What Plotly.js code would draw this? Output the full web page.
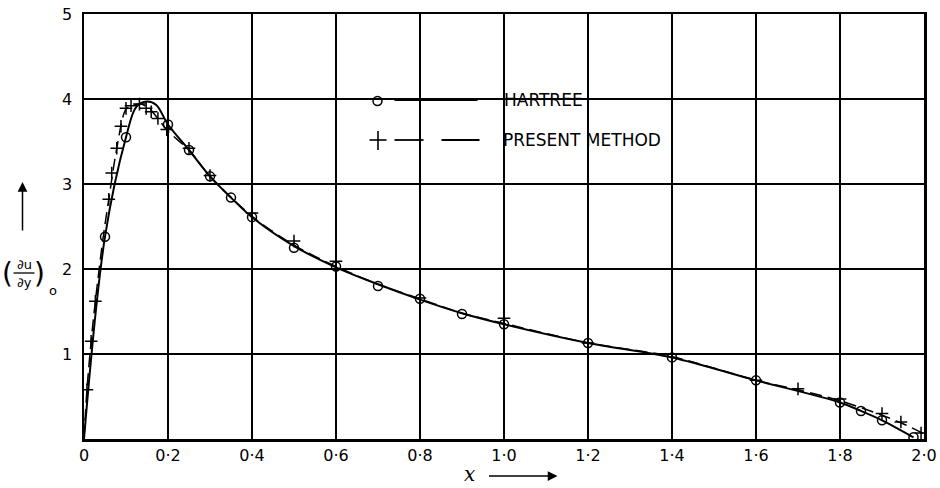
<!DOCTYPE html>
<html>
<head>
<meta charset="utf-8">
<script src="https://cdn.plot.ly/plotly-3.0.1.min.js"></script>
<style>html,body{margin:0;padding:0;background:#fff}#chart{width:940px;height:488px}</style>
</head>
<body>
<div id="chart"></div>
<script>
// Hartree: plotted points (circles)
var hartreeX = [0.05,0.1,0.2,0.25,0.3,0.35,0.4,0.5,0.6,0.7,0.8,0.9,1.0,1.2,1.4,1.6,1.8,1.85,1.9,1.975];
var hartreeY = [2.38,3.55,3.70,3.40,3.09,2.84,2.61,2.25,2.03,1.80,1.65,1.47,1.35,1.13,0.96,0.69,0.43,0.33,0.22,0.02];
// Hartree: faired curve (solid line)
var hartreeCurveX = [0,0.05,0.1,0.125,0.15,0.172,0.2,0.25,0.3,0.35,0.4,0.5,0.6,0.7,0.8,0.9,1.0,1.2,1.4,1.6,1.8,1.85,1.9,1.975];
var hartreeCurveY = [0,2.38,3.55,3.91,3.97,3.93,3.70,3.40,3.09,2.84,2.61,2.27,2.02,1.82,1.64,1.48,1.35,1.13,0.96,0.69,0.43,0.33,0.22,0.02];
// Present method: plotted points (crosses)
var presentX = [0.007,0.017,0.027,0.059,0.066,0.078,0.088,0.1,0.112,0.132,0.148,0.16,0.176,0.197,0.25,0.3,0.4,0.5,0.6,0.8,1.0,1.2,1.4,1.6,1.7,1.8,1.9,1.945,1.993];
var presentY = [0.58,1.15,1.62,2.82,3.13,3.42,3.68,3.89,3.92,3.94,3.89,3.85,3.77,3.64,3.42,3.10,2.66,2.33,2.09,1.66,1.42,1.13,1.00,0.69,0.59,0.47,0.30,0.20,0.07];
// Present method: faired curve (dashed line)
var presentCurveX = [0,0.007,0.017,0.027,0.045,0.059,0.078,0.1,0.12,0.135,0.155,0.176,0.2,0.25,0.3,0.4,0.5,0.6,0.7,0.8,0.9,1.0,1.2,1.4,1.6,1.7,1.8,1.9,1.95,2.0];
var presentCurveY = [0,0.58,1.15,1.62,2.35,2.82,3.42,3.88,3.93,3.94,3.89,3.77,3.62,3.40,3.09,2.62,2.28,2.03,1.82,1.65,1.48,1.36,1.13,0.97,0.69,0.58,0.45,0.28,0.18,0.06];

var xTickVals = [0,0.2,0.4,0.6,0.8,1.0,1.2,1.4,1.6,1.8,2.0];
var xTickText = ['0','0·2','0·4','0·6','0·8','1·0','1·2','1·4','1·6','1·8','2·0'];
var yTickVals = [1,2,3,4,5];
var yTickText = ['1','2','3','4','5'];

var FONT = 'DejaVu Sans, Liberation Sans, sans-serif';

var traces = [
  {x: hartreeCurveX, y: hartreeCurveY, mode: 'lines', line: {color: '#000', width: 2, shape: 'spline', smoothing: 1.0}, showlegend: false, hoverinfo: 'skip'},
  {x: presentCurveX, y: presentCurveY, mode: 'lines', line: {color: '#000', width: 1.5, dash: '12px,6px', shape: 'spline', smoothing: 0.8}, showlegend: false, hoverinfo: 'skip'},
  {x: hartreeX, y: hartreeY, mode: 'markers', marker: {symbol: 'circle-open', size: 9, color: '#000', line: {width: 1.5, color: '#000'}}, showlegend: false},
  {x: presentX, y: presentY, mode: 'markers', marker: {symbol: 'cross-thin-open', size: 9, color: '#000', line: {width: 1.5, color: '#000'}}, showlegend: false}
];

function px2x(p){ return (p - 84.5) / 840; }
function px2y(p){ return (439 - p) / 425; }

var shapes = [
  {type: 'rect', xref: 'paper', yref: 'paper', x0: px2x(360), x1: px2x(608), y0: px2y(152), y1: px2y(86), fillcolor: '#fff', line: {width: 0}, layer: 'between'},
  {type: 'circle', xref: 'paper', yref: 'paper', xsizemode: 'pixel', ysizemode: 'pixel', xanchor: px2x(378), yanchor: px2y(101), x0: -4.5, x1: 4.5, y0: -4.5, y1: 4.5, line: {color: '#000', width: 1.5}},
  {type: 'line', xref: 'paper', yref: 'paper', x0: px2x(395), x1: px2x(478), y0: px2y(100), y1: px2y(100), line: {color: '#000', width: 1.8}},
  {type: 'line', xref: 'paper', yref: 'paper', x0: px2x(370), x1: px2x(387), y0: px2y(140), y1: px2y(140), line: {color: '#000', width: 1.6}},
  {type: 'line', xref: 'paper', yref: 'paper', x0: px2x(378.5), x1: px2x(378.5), y0: px2y(131), y1: px2y(150), line: {color: '#000', width: 1.6}},
  {type: 'line', xref: 'paper', yref: 'paper', x0: px2x(395), x1: px2x(424), y0: px2y(140), y1: px2y(140), line: {color: '#000', width: 1.8}},
  {type: 'line', xref: 'paper', yref: 'paper', x0: px2x(442), x1: px2x(480), y0: px2y(140), y1: px2y(140), line: {color: '#000', width: 1.8}},
  {type: 'line', xref: 'paper', yref: 'paper', x0: px2x(14), x1: px2x(35), y0: px2y(273), y1: px2y(273), line: {color: '#000', width: 1.3}}
];

var annotations = [
  {xref: 'paper', yref: 'paper', x: px2x(502), y: px2y(100), text: 'HARTREE', showarrow: false, xanchor: 'left', yanchor: 'middle', font: {family: FONT, size: 17, color: '#000'}},
  {xref: 'paper', yref: 'paper', x: px2x(501), y: px2y(140), text: 'PRESENT METHOD', showarrow: false, xanchor: 'left', yanchor: 'middle', font: {family: FONT, size: 17, color: '#000'}},
  {xref: 'paper', yref: 'paper', x: px2x(8), y: px2y(273), text: '(', showarrow: false, xanchor: 'center', yanchor: 'middle', font: {family: FONT, size: 28, color: '#000'}},
  {xref: 'paper', yref: 'paper', x: px2x(24.5), y: px2y(264), text: '∂u', showarrow: false, xanchor: 'center', yanchor: 'middle', font: {family: FONT, size: 13, color: '#000'}},
  {xref: 'paper', yref: 'paper', x: px2x(24.5), y: px2y(282), text: '∂y', showarrow: false, xanchor: 'center', yanchor: 'middle', font: {family: FONT, size: 13, color: '#000'}},
  {xref: 'paper', yref: 'paper', x: px2x(40), y: px2y(273), text: ')', showarrow: false, xanchor: 'center', yanchor: 'middle', font: {family: FONT, size: 28, color: '#000'}},
  {xref: 'paper', yref: 'paper', x: px2x(53), y: px2y(290), text: 'o', showarrow: false, xanchor: 'center', yanchor: 'middle', font: {family: FONT, size: 13, color: '#000'}},
  {xref: 'paper', yref: 'paper', x: px2x(23), y: px2y(182), text: '', showarrow: true, ax: 0, ay: 50, arrowhead: 2, arrowsize: 1.3, arrowwidth: 1.5, arrowcolor: '#000'},
  {xref: 'paper', yref: 'paper', x: px2x(470), y: px2y(474), text: '<i>x</i>', showarrow: false, xanchor: 'center', yanchor: 'middle', font: {family: 'DejaVu Serif, serif', size: 20, color: '#000'}},
  {xref: 'paper', yref: 'paper', x: px2x(558), y: px2y(476), text: '', showarrow: true, ax: -70, ay: 0, arrowhead: 2, arrowsize: 1.3, arrowwidth: 1.5, arrowcolor: '#000'}
];

var layout = {
  width: 940, height: 488,
  margin: {l: 84, r: 16, t: 14, b: 49, pad: 0},
  paper_bgcolor: '#fff', plot_bgcolor: '#fff',
  showlegend: false,
  font: {family: FONT, size: 16, color: '#000'},
  xaxis: {range: [0, 2], tickvals: xTickVals, ticktext: xTickText, showgrid: true, gridcolor: '#000', gridwidth: 1.2,
          showline: true, linecolor: '#000', linewidth: 2.5, mirror: true, zeroline: false, ticks: '', ticklen: 0,
          tickfont: {family: FONT, size: 16, color: '#000'}, fixedrange: true},
  yaxis: {range: [0, 5], tickvals: yTickVals, ticktext: yTickText, showgrid: true, gridcolor: '#000', gridwidth: 1.2,
          showline: true, linecolor: '#000', linewidth: 2.5, mirror: true, zeroline: false, ticks: '', ticklen: 0,
          ticklabelstandoff: 6, tickfont: {family: FONT, size: 16, color: '#000'}, fixedrange: true},
  shapes: shapes,
  annotations: annotations
};

Plotly.newPlot('chart', traces, layout, {staticPlot: true, displayModeBar: false});
</script>
</body>
</html>
